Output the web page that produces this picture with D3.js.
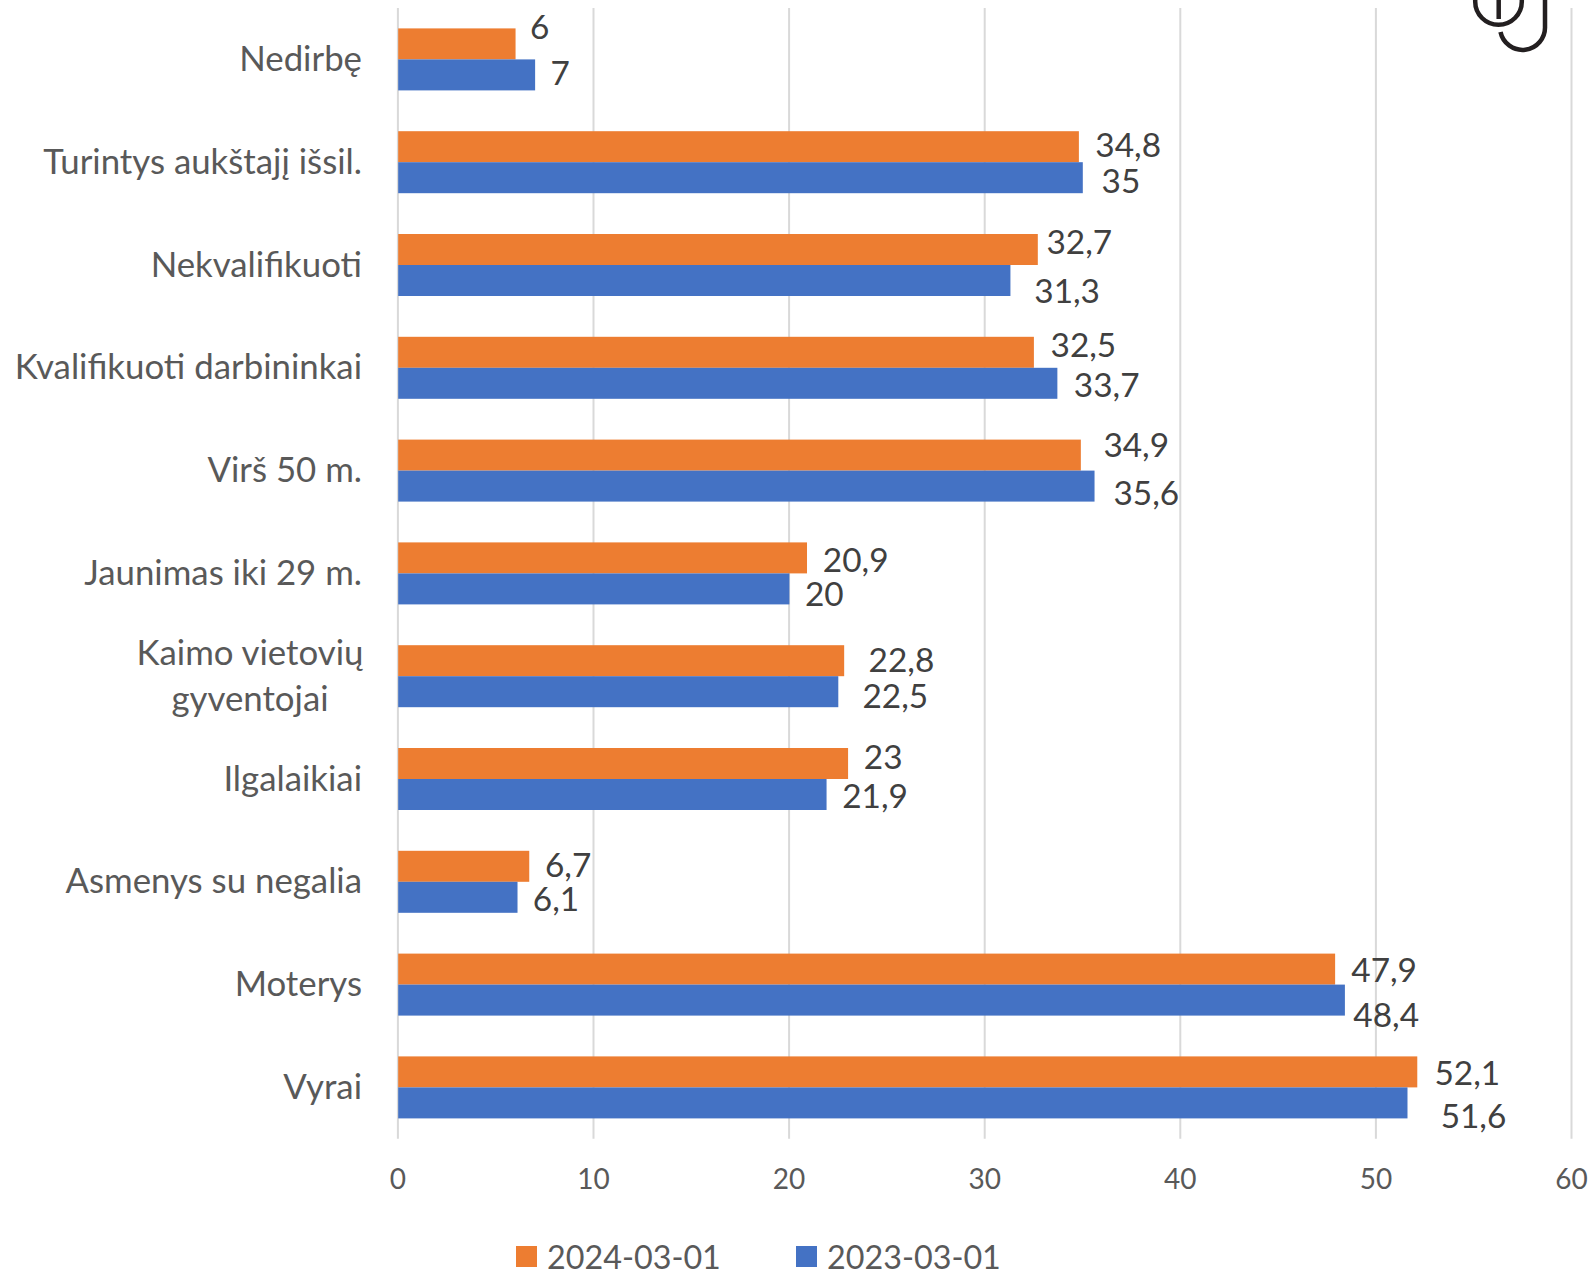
<!DOCTYPE html>
<html>
<head>
<meta charset="utf-8">
<script src="https://cdn.jsdelivr.net/npm/d3@7"></script>
<style>
	html,body{margin:0;padding:0;background:#fff}
	svg{display:block}
	text{font-family:Lato,sans-serif}
</style>
</head>
<body>
<svg id="chart"></svg>
<script>
const categories = ['Nedirbę','Turintys aukštajį išsil.','Nekvalifikuoti','Kvalifikuoti darbininkai','Virš 50 m.','Jaunimas iki 29 m.','Kaimo vietovių|gyventojai','Ilgalaikiai','Asmenys su negalia','Moterys','Vyrai']
const series_names = ['2024-03-01','2023-03-01']
const values_2024 = [6,34.8,32.7,32.5,34.9,20.9,22.8,23,6.7,47.9,52.1]
const values_2023 = [7,35,31.3,33.7,35.6,20,22.5,21.9,6.1,48.4,51.6]
const x_ticks = [0,10,20,30,40,50,60]

// labels were dragged by hand in the original, so each one has its own nudge
const nudge_2024 = [[24.7,-16.5],[49.8,-1.4],[42,-7.7],[50,-6.9],[55.9,-10],[49.2,1.9],[57.8,-0.3],[35.6,-6.6],[39.4,-1.7],[49.5,1.2],[50.5,1]]
const nudge_2023 = [[25.5,-1.9],[38.6,3],[57.2,10],[49.8,1.6],[52.3,6.6],[35.4,5.4],[57.5,4.2],[49,1.9],[39,1.6],[41.8,14.8],[66.5,12.6]]

const cols = ['#ED7D31','#4472C4']
const wdth = 1593
const hght = 1270

const svg = d3.select('#chart').attr('width',wdth).attr('height',hght)

const x = d3.scaleLinear().domain([0,60]).range([398.2,1571.8])
const y = d3.scaleBand().domain(categories).range([8,1138.8])
const y_inner = d3.scaleBand().domain(series_names).range([0,62]).paddingInner(0)
const bar_off = (y.bandwidth() - y_inner.bandwidth() * 2) / 2

// gridlines + value axis
const x_axis = svg.append('g')
	.attr('transform','translate(-0.8,1138.8)')
	.call(d3.axisBottom(x).tickValues(x_ticks).tickSize(-1130.8).tickPadding(30))
x_axis.select('.domain').remove()
x_axis.selectAll('line').attr('stroke','#D9D9D9').attr('stroke-width',2)
x_axis.selectAll('text')
	.attr('fill','#595959')
	.attr('font-size',28)
	.style('font-family','Lato,sans-serif')

// category axis, labels only
const y_axis = svg.append('g')
	.attr('transform','translate(362,-2)')
	.call(d3.axisLeft(y).tickSize(0).tickPadding(0).tickFormat(''))
y_axis.select('.domain').remove()
y_axis.selectAll('.tick text').each(function(d){
	const lines = d.split('|')
	const t = d3.select(this)
		.attr('fill','#595959')
		.attr('font-size',34.8)
		.style('font-family','Lato,sans-serif')
		.attr('dy',null)
		.attr('x',0)
	if(lines.length == 1){
		t.attr('text-anchor','end').attr('y',0).attr('dominant-baseline','central').text(lines[0])
	}else{
		t.attr('text-anchor','middle').attr('dominant-baseline','central')
		lines.forEach((l,i)=>{
			t.append('tspan').attr('x',-112).attr('y',(i - 0.5) * 46).text(l)
		})
	}
})

const all_values = [values_2024,values_2023]
const all_nudges = [nudge_2024,nudge_2023]

series_names.forEach((name,s)=>{
	const rows = categories.map((c,i)=>({c:c,v:all_values[s][i],n:all_nudges[s][i]}))
	const top = d => y(d.c) + bar_off + y_inner(name)

	svg.append('g').selectAll('rect')
		.data(rows)
		.enter()
		.append('rect')
		.attr('x',x(0))
		.attr('y',top)
		.attr('width',d => x(d.v) - x(0))
		.attr('height',y_inner.bandwidth())
		.attr('fill',cols[s])

	svg.append('g').selectAll('text')
		.data(rows)
		.enter()
		.append('text')
		.attr('x',d => x(d.v) + d.n[0] - 0.5)
		.attr('y',d => top(d) + y_inner.bandwidth() / 2 + d.n[1] - 1)
		.attr('text-anchor','middle')
		.attr('dominant-baseline','central')
		.attr('fill','#404040')
		.attr('font-size',33.4)
		.text(d => String(d.v).replace('.',','))
})

// legend
const legend_x = [516,796]
const legendG = svg.selectAll('.legend')
	.data(series_names)
	.enter()
	.append('g')
	.classed('legend',true)
	.attr('transform',(d,i) => `translate(${legend_x[i]},1246)`)
legendG.append('rect')
	.attr('width',21)
	.attr('height',21)
	.attr('fill',(d,i) => cols[i])
legendG.append('text')
	.attr('x',31)
	.attr('y',10.5)
	.attr('dominant-baseline','central')
	.attr('fill','#595959')
	.attr('font-size',32.3)
	.text(d => d)

// clipped icon in the top right corner of the screenshot
const icon = svg.append('g').attr('fill','none').attr('stroke','#231F20').attr('stroke-width',4.5)
icon.append('path').attr('d','M1475.2,-5 V1.5 A23.3,23.3 0 0 0 1521.8,1.5 V-5')
icon.append('path').attr('d','M1498.7,-5 V19')
icon.append('path').attr('d','M1545,-5 V26.5 A22.5,22.5 0 0 1 1500.5,32')
</script>
</body>
</html>
